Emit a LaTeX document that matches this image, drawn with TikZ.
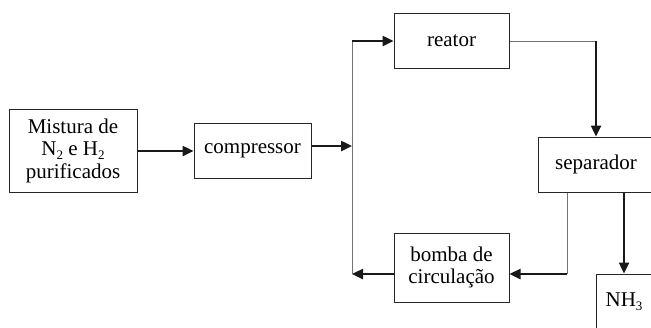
\documentclass[tikz,border=0pt]{standalone}
\usepackage{fontspec}
\setmainfont{Liberation Serif}
\usetikzlibrary{arrows.meta,calc}
\newcommand{\lowsub}[1]{\raisebox{-0.4ex}{\fontsize{13}{13}\selectfont #1}}
\begin{document}
\begin{tikzpicture}[x=1pt,y=-1pt,
  box/.style={draw=black!85,line width=1pt,inner sep=0pt,align=center,
    font=\fontsize{21}{22.5}\selectfont},
  thickarrow/.style={line width=2.4pt,black!90,-{Triangle[length=11pt,width=10pt]}},
  thinline/.style={line width=1pt,black!55}]
\useasboundingbox (0,0) rectangle (651,327);
\clip (0,0) rectangle (651,327);
\node[box,minimum width=128pt,minimum height=83pt] (mix) at (73,150.5)
  {Mistura de\\N\lowsub{2} e H\lowsub{2}\\purificados};
\node[box,minimum width=117pt,minimum height=55pt] (comp) at (252.5,150.5) {compressor};
\node[box,minimum width=115pt,minimum height=55pt] (reat) at (451.5,40.5) {reator};
\node[box,minimum width=116pt,minimum height=55pt] (sep) at (596,164.5) {separador};
\node[box,minimum width=115pt,minimum height=69pt] (bomba) at (451.5,267.5) {bomba de\\circulação};
\node[box,minimum width=56pt,minimum height=56pt] (nh) at (624,302) {NH\lowsub{3}};
\coordinate (jm) at (137,151);
\coordinate (jc) at (352,146);
\coordinate (jt) at (352,41);
\coordinate (jb) at (352,274);
\coordinate (rc) at (596,41);
\coordinate (sb) at (567,274);
\draw[thinline] (jb) -- (jt);
\draw[thickarrow] (mix.east |- jm) -- (comp.west |- jm);
\draw[thickarrow] (comp.east |- jc) -- (jc);
\draw[thickarrow] (jt) -- (reat.west |- jt);
\draw[thinline] (reat.east |- rc) -- (rc);
\draw[thickarrow] (rc) -- (sep.north);
\draw[thinline] (sep.south -| sb) -- (sb);
\draw[thickarrow] (sb) -- (bomba.east |- sb);
\draw[thickarrow] (bomba.west |- jb) -- (jb);
\draw[thickarrow] (sep.south -| nh) -- (nh.north);
\end{tikzpicture}
\end{document}
